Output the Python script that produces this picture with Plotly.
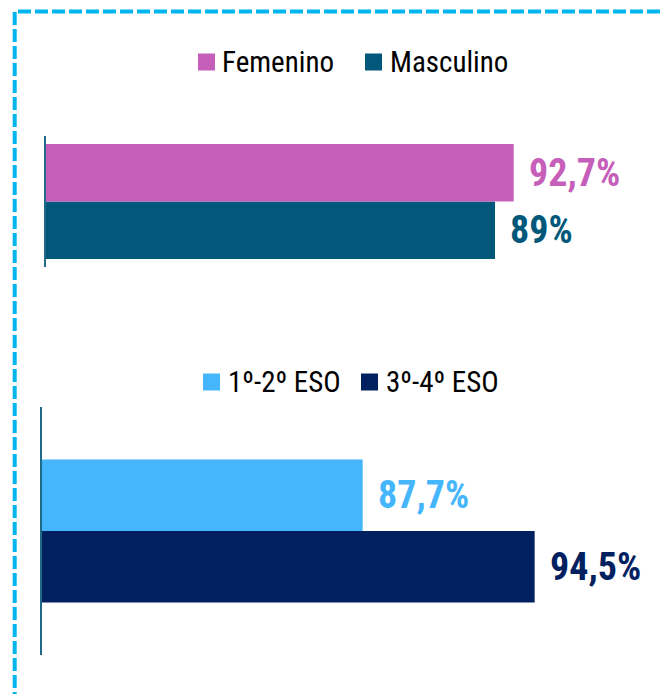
import plotly.graph_objects as go

# ---- data ----
sex_categories = ["Masculino", "Femenino"]
sex_values = [89.0, 92.7]
sex_colors = ["#02587A", "#C65FBA"]

grade_categories = ["3º-4º ESO", "1º-2º ESO"]
grade_values = [94.5, 87.7]
grade_colors = ["#00205F", "#45B6FC"]

W, H = 661, 694
FONT = "Roboto Condensed, Arial Narrow, Roboto, sans-serif"


def px(x):
    return x / W


def py(y):
    return 1 - y / H


def fmt(v):
    return f"{v:g}".replace(".", ",") + "%"


fig = go.Figure()

fig.add_trace(go.Bar(
    y=sex_categories, x=sex_values, orientation="h", width=1,
    marker=dict(color=sex_colors, line=dict(width=0)),
    xaxis="x", yaxis="y", hoverinfo="skip", showlegend=False,
))
fig.add_trace(go.Bar(
    y=grade_categories, x=grade_values, orientation="h", width=1,
    marker=dict(color=grade_colors, line=dict(width=0)),
    xaxis="x2", yaxis="y2", hoverinfo="skip", showlegend=False,
))

annotations = []
for cat, v, c in zip(sex_categories, sex_values, sex_colors):
    annotations.append(dict(x=v, y=cat, xref="x", yref="y", text=fmt(v), showarrow=False,
                            xanchor="left", yanchor="middle", xshift=13,
                            font=dict(family=FONT, size=38, color=c, weight="bold")))
for cat, v, c in zip(grade_categories, grade_values, grade_colors):
    annotations.append(dict(x=v, y=cat, xref="x2", yref="y2", text=fmt(v), showarrow=False,
                            xanchor="left", yanchor="middle", xshift=13,
                            font=dict(family=FONT, size=38, color=c, weight="bold")))

shapes = []
# legends (manual)
legend_items = [
    (sex_categories[1], sex_colors[1], 198, 220, 62),
    (sex_categories[0], sex_colors[0], 365, 388, 62),
    (grade_categories[1], grade_colors[1], 203, 226, 382),
    (grade_categories[0], grade_colors[0], 361, 384, 382),
]
for name, color, sx, tx, cy in legend_items:
    shapes.append(dict(type="rect", xref="paper", yref="paper",
                       x0=px(sx), x1=px(sx + 17), y0=py(cy - 8.5), y1=py(cy + 8.5),
                       fillcolor=color, line=dict(width=0)))
    annotations.append(dict(x=px(tx), y=py(cy), xref="paper", yref="paper", text=name,
                            showarrow=False, xanchor="left", yanchor="middle",
                            font=dict(family=FONT, size=29, color="#000000")))

# dashed frame
border = dict(color="#00B4F0", width=4, dash="13px,4px")
shapes.append(dict(type="line", xref="paper", yref="paper",
                   x0=px(18), x1=px(W), y0=py(11.5), y1=py(11.5), line=border))
shapes.append(dict(type="line", xref="paper", yref="paper",
                   x0=px(14.7), x1=px(14.7), y0=py(12), y1=py(H), line=border))

axis_common = dict(showgrid=False, zeroline=False, showticklabels=False, ticks="", fixedrange=True)

fig.update_layout(
    width=W, height=H, autosize=False,
    margin=dict(l=0, r=0, t=0, b=0),
    paper_bgcolor="white", plot_bgcolor="white",
    showlegend=False,
    xaxis=dict(domain=[px(46), 1], range=[0, 615 / 5.045], anchor="y", **axis_common),
    yaxis=dict(domain=[py(267), py(136)], range=[-0.64, 1.64], anchor="x", type="category",
               showline=True, linecolor="#1F6A88", linewidth=2, **axis_common),
    xaxis2=dict(domain=[px(41.5), 1], range=[75, 75 + 619.5 / 25.29], anchor="y2", **axis_common),
    yaxis2=dict(domain=[py(655), py(407)], range=[-1.235, 2.235], anchor="x2", type="category",
                showline=True, linecolor="#1F6A88", linewidth=2, **axis_common),
    annotations=annotations,
    shapes=shapes,
)

fig.write_html("out.html", config={"displayModeBar": False},
               post_script="document.body.style.margin='0px';document.body.style.padding='0px';")
